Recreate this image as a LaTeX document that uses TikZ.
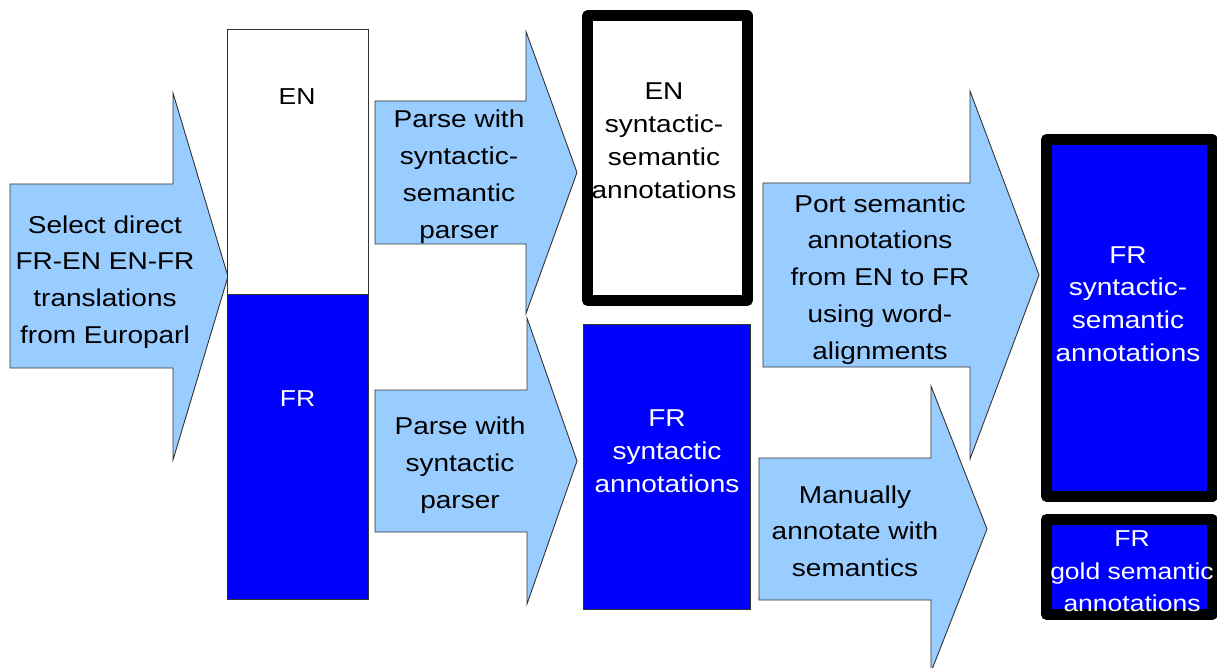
\documentclass[tikz,border=0pt]{standalone}
\usepackage{fontspec}
\setmainfont{Liberation Sans}
\usepackage{graphicx}
\definecolor{arrowblue}{HTML}{99CCFF}
\definecolor{boxblue}{HTML}{0000FF}
\newcommand{\lbl}[1]{\scalebox{1}[0.87]{\begin{tabular}{@{}c@{}}#1\end{tabular}}}
\tikzset{
  arrowshape/.style={fill=arrowblue, draw=black!80, line width=0.9pt, line join=miter},
  thinbox/.style={draw=black!80, line width=0.9pt},
  thickbox/.style={draw=black, line width=11pt, line join=round},
  txt/.style={inner sep=0pt, font=\fontsize{28}{42.2}\selectfont},
  boxtxt/.style={inner sep=0pt, font=\fontsize{28}{37.6}\selectfont},
  smalltxt/.style={inner sep=0pt, font=\fontsize{26.5}{42.2}\selectfont},
  goldtxt/.style={inner sep=0pt, font=\fontsize{26.5}{37.4}\selectfont, text=white},
}
\begin{document}
\begin{tikzpicture}[x=1pt,y=-1pt]
\useasboundingbox (0,0) rectangle (1217,668);
% arrow 1
\draw[arrowshape] (10,184) -- (173,184) -- (173,93) -- (228,276.5) -- (173,460) -- (173,368) -- (10,368) -- cycle;
% EN / FR box
\draw[thinbox, fill=white] (227,29) rectangle (368,294);
\draw[thinbox, fill=boxblue] (227,294) rectangle (368,599);
% arrow 2
\draw[arrowshape] (375,101) -- (526,101) -- (526,31.5) -- (577,172.5) -- (526,313.5) -- (526,244) -- (375,244) -- cycle;
% arrow 3
\draw[arrowshape] (375,390) -- (527,390) -- (527,318) -- (577,461) -- (527,604) -- (527,532) -- (375,532) -- cycle;
% EN syntactic-semantic box
\draw[thickbox, fill=white] (587.5,16) rectangle (747,300.5);
% FR syntactic box
\draw[thinbox, fill=boxblue] (583,324) rectangle (750,609);
% arrow 4
\draw[arrowshape] (763,183) -- (970,183) -- (970,91) -- (1039,275) -- (970,459) -- (970,367) -- (763,367) -- cycle;
% arrow 5
\draw[arrowshape] (759,458) -- (931,458) -- (931,386) -- (987,529) -- (931,672) -- (931,600) -- (759,600) -- cycle;
% big FR box
\draw[thickbox, fill=boxblue] (1046.5,139.5) rectangle (1212,496);
% gold box
\draw[thickbox, fill=boxblue] (1046.5,519.5) rectangle (1212,614.5);

% texts
\node[txt] (t1) at (105,281) {\lbl{Select direct\\FR-EN EN-FR\\translations\\from Europarl}};
\node[smalltxt] (en) at (297,97.5) {\lbl{EN}};
\node[smalltxt, text=white] (fr) at (297.5,399.4) {\lbl{FR}};
\node[txt] (t2) at (459,175.7) {\lbl{Parse with\\syntactic-\\semantic\\parser}};
\node[txt] (t3) at (460,464.3) {\lbl{Parse with\\syntactic\\parser}};
\node[boxtxt] (ensyn) at (664,142.5) {\lbl{EN\\syntactic-\\semantic\\annotations}};
\node[boxtxt, text=white] (frsyn) at (667,452.8) {\lbl{FR\\syntactic\\annotations}};
\node[txt] (t4) at (880,278.3) {\lbl{Port semantic\\annotations\\from EN to FR\\using word-\\alignments}};
\node[txt] (t5) at (855,532.6) {\lbl{Manually\\annotate with\\semantics}};
\node[boxtxt, text=white] (frss) at (1128,305.8) {\lbl{FR\\syntactic-\\semantic\\annotations}};
\node[goldtxt] (gold) at (1132,572.7) {\lbl{FR\\gold semantic\\annotations}};
\end{tikzpicture}
\end{document}
